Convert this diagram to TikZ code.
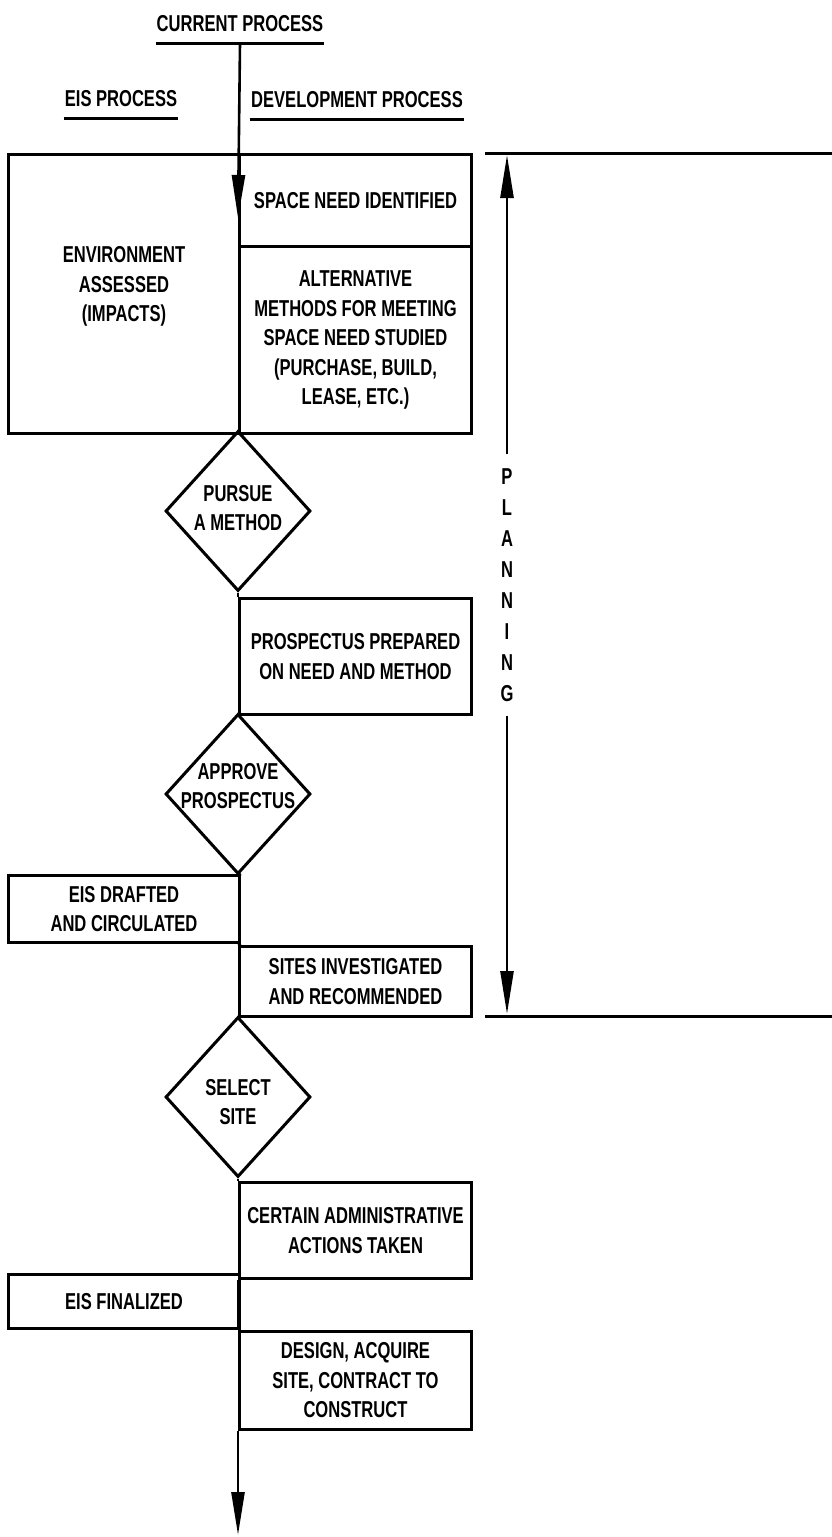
\documentclass[tikz,border=0pt]{standalone}
\usepackage{fontspec}
\setmainfont{Liberation Sans}[FakeStretch=0.72]
\usepackage{tikz}
\usetikzlibrary{positioning, arrows.meta, shapes.geometric}

\newcommand{\boxfont}{\fontsize{23}{29.5}\selectfont\bfseries}

\begin{document}
\begin{tikzpicture}[x=1pt, y=-1pt]
	% Define styles
	\tikzset{
		block/.style={rectangle, draw, line width=3pt, align=center, inner sep=0pt, anchor=north west, font=\boxfont},
		decision/.style={diamond, draw, line width=3pt, minimum width=145pt, minimum height=160pt, inner sep=0pt},
		label text/.style={align=center, inner sep=0pt, font=\boxfont},
		heading/.style={inner xsep=1pt, inner ysep=11pt, font=\boxfont},
		uline/.style={draw, line width=3pt},
		line/.style={draw, line width=2.6pt},
		arrow line/.style={line, -{Triangle[length=43pt,width=13pt]}}
	}
	\useasboundingbox (0,0) rectangle (832,1537);

	% Headings
	\node[heading] (cur) at (240,24) {CURRENT PROCESS};
	\node[heading] (eis) at (121,99) {EIS PROCESS};
	\node[heading] (dev) at (357,100) {DEVELOPMENT PROCESS};

	% Nodes
	\node[block, minimum width=231pt, minimum height=279pt, text depth=20pt] (env) at (7,153) {ENVIRONMENT\\ASSESSED\\(IMPACTS)};
	\node[block, minimum width=232pt, minimum height=92pt] (space) at (238,153) {SPACE NEED IDENTIFIED};
	\node[block, minimum width=232pt, minimum height=187pt] (alt) at (238,245) {ALTERNATIVE\\METHODS FOR MEETING\\SPACE NEED STUDIED\\(PURCHASE, BUILD,\\LEASE, ETC.)};

	\node[decision] (d1) at (238,511) {};
	\node[label text, yshift=3pt] (d1t) at (d1) {PURSUE\\A METHOD};

	\node[block, minimum width=232pt, minimum height=116pt] (prosp) at (238,597) {PROSPECTUS PREPARED\\ON NEED AND METHOD};

	\node[decision] (d2) at (238,794) {};
	\node[label text, yshift=8pt] (d2t) at (d2) {APPROVE\\PROSPECTUS};

	\node[block, minimum width=231pt, minimum height=67pt] (draft) at (7,874) {EIS DRAFTED\\AND CIRCULATED};
	\node[block, minimum width=232pt, minimum height=70pt] (sites) at (238,945) {SITES INVESTIGATED\\AND RECOMMENDED};

	\node[decision] (d3) at (238,1097) {};
	\node[label text, yshift=-5pt] (d3t) at (d3) {SELECT\\SITE};

	\node[block, minimum width=232pt, minimum height=96pt] (admin) at (238,1181) {CERTAIN ADMINISTRATIVE\\ACTIONS TAKEN};
	\node[block, minimum width=231pt, minimum height=54pt] (final) at (7,1273) {EIS FINALIZED};
	\node[block, minimum width=232pt, minimum height=98pt] (design) at (238,1330) {DESIGN, ACQUIRE\\SITE, CONTRACT TO\\CONSTRUCT};

	% Planning span
	\node[label text, inner ysep=14pt, font=\fontsize{23}{31}\selectfont\bfseries] (plan) at (507,585) {P\\L\\A\\N\\N\\I\\N\\G};
	\coordinate (ptop) at (507,155);
	\coordinate (pbot) at (507,1014);
	\coordinate (tick1) at (485,153);
	\coordinate (tick2) at (832,153);
	\coordinate (tick3) at (485,1016);
	\coordinate (tick4) at (832,1016);
	\coordinate (start) at (238,218);
	\coordinate (end) at (238,1535);

	% Underlines
	\path [uline] (cur.south west) -- (cur.south east);
	\path [uline] (eis.south west) -- (eis.south east);
	\path [uline] (dev.south west) -- (dev.south east);
	\path [uline] (tick1) -- (tick2);
	\path [uline] (tick3) -- (tick4);

	% Arrows
	\path [arrow line] (cur.south) -- (start);
	\path [line] (d1.south) -- (prosp.north west);
	\path [line] (prosp.south west) -- (d2.north);
	\path [line] (d2.south) -- (draft.north east);
	\path [line] (draft.south east) -- (sites.north west);
	\path [line] (sites.south west) -- (d3.north);
	\path [line] (d3.south) -- (admin.north west);
	\path [line] (admin.south west) -- (design.north west);
	\path [arrow line] (design.south west) -- (end);

	\path [arrow line] (plan.north) -- (ptop);
	\path [arrow line] (plan.south) -- (pbot);
\end{tikzpicture}
\end{document}
